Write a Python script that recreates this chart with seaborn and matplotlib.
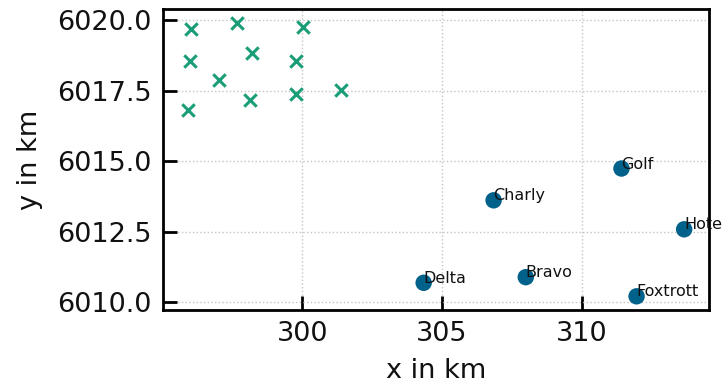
import matplotlib
matplotlib.use("Agg")
import matplotlib.pyplot as plt
import seaborn as sns
import pandas as pd

# Unnamed sample points (crosses)
sample_x = [296.04, 297.68, 300.04, 295.99, 298.22, 299.79, 297.04, 301.37, 299.76, 298.13, 295.91]
sample_y = [6019.70, 6019.92, 6019.78, 6018.56, 6018.85, 6018.57, 6017.88, 6017.53, 6017.37, 6017.17, 6016.82]

# Named stations (circles with labels)
station_names = ["Golf", "Charly", "Hotel", "Delta", "Bravo", "Foxtrott"]
station_x = [311.41, 306.84, 313.65, 304.34, 307.99, 311.95]
station_y = [6014.74, 6013.61, 6012.58, 6010.68, 6010.88, 6010.20]

sns.set_style("ticks")
plt.rcParams["font.family"] = ["DejaVu Sans"]

samples = pd.DataFrame({"x": sample_x, "y": sample_y})
stations = pd.DataFrame({"name": station_names, "x": station_x, "y": station_y})

fig, ax = plt.subplots(figsize=(7.23, 3.87), dpi=100)
fig.subplots_adjust(left=0.2254, right=0.9806, top=0.9767, bottom=0.199)

sns.scatterplot(data=samples, x="x", y="y", marker="x", s=80, color="#1b9e77",
                linewidth=2.2, ax=ax, zorder=3)
sns.scatterplot(data=stations, x="x", y="y", marker="o", s=140, color="#00618a",
                edgecolor="none", ax=ax, zorder=3)

# Station names sit at each point; labels are allowed to run past the frame
for name, xv, yv in zip(station_names, station_x, station_y):
    ax.text(xv, yv, name, fontsize=11.5, color="#111111", zorder=4, clip_on=False)

ax.grid(True, linestyle=":", color="#c4c4c4", linewidth=1.0)
ax.set_axisbelow(True)

for side in ["top", "right", "left", "bottom"]:
    ax.spines[side].set_visible(True)
    ax.spines[side].set_linewidth(2.0)
    ax.spines[side].set_color("black")

ax.tick_params(axis="both", direction="in", length=10, width=2.0,
               labelsize=19.5, colors="black", labelcolor="#111111", pad=8)
ax.set_xlabel("x in km", fontsize=19.5, color="#111111", labelpad=8)
ax.set_ylabel("y in km", fontsize=19.5, color="#111111", labelpad=10)

fig.savefig("out.png", dpi=100)
